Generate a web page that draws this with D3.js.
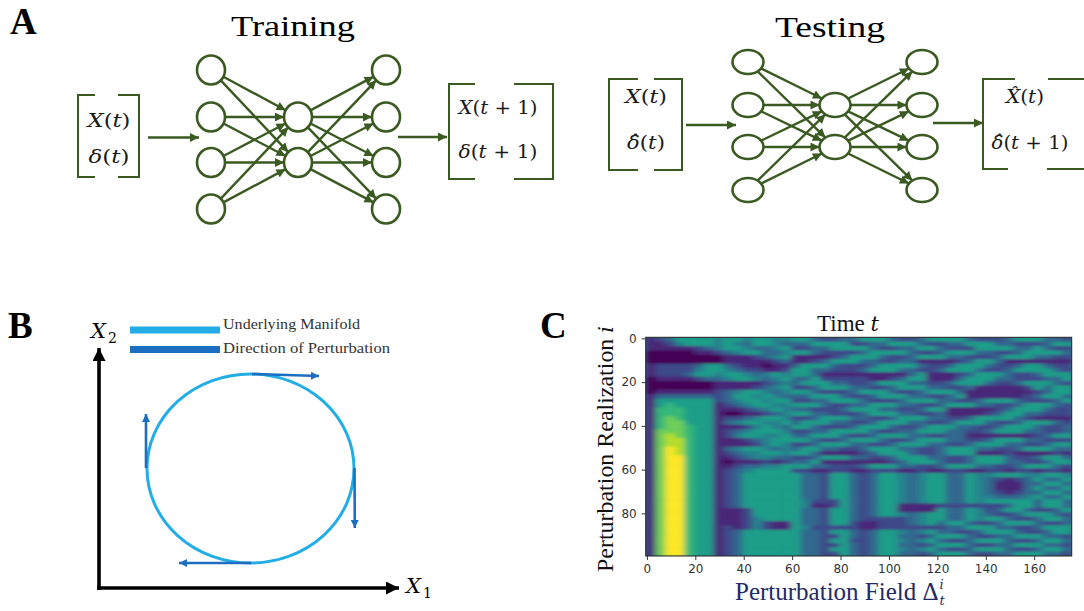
<!DOCTYPE html>
<html><head><meta charset="utf-8">
<script src="https://cdn.jsdelivr.net/npm/d3@7"></script>
<style>body{margin:0;background:#fff}svg{display:block}text{white-space:pre}</style>
</head><body>
<svg id="fig" width="1084" height="611"></svg>
<script>
// ---------------- data ----------------
const panelLetters = ["A", "B", "C"];
const stageTitles = ["Training", "Testing"];
const trainInputs = ["X(t)", "δ(t)"];
const trainOutputs = ["X(t + 1)", "δ(t + 1)"];
const testInputs = ["X(t)", "δ\u0302(t)"];
const testOutputs = ["X\u0302(t)", "δ\u0302(t + 1)"];
const layerSizes = [4, 2, 4];
const legendLabels = ["Underlying Manifold", "Direction of Perturbation"];
const heatTitle = "Time ";
const heatYLabel = "Perturbation Realization ";
const heatXLabel = "Perturbation Field Δ";
const xTicks = [0, 20, 40, 60, 80, 100, 120, 140, 160];
const yTicks = [0, 20, 40, 60, 80];
const nTime = 176, nReal = 100, colStep = 4, rowStep = 2;
// each row: 2 realizations; each digit: 4 time steps; level 0..9 on viridis
const heatRows = [
 "1235 5554 5545 544 | 55322 33555 32235 55532 22355 5332",
 "1124 5554 5435 543 | 33555 52233 55532 23355 53322 2355",
 "1111 1234 5543 345 | 22335 55532 23355 32225 55533 5322",
 "0000 0112 3455 334 | 55322 22355 55322 35553 32235 5553",
 "0000 0000 1112 345 | 11112 35553 22355 53322 23555 3322",
 "0000 0000 1111 123 | 11235 55332 23311 11235 53111 1111",
 "1222 2355 3211 011 | 35553 22235 55532 23555 32235 5322",
 "1222 2455 4322 112 | 55332 22355 53322 35553 22355 5532",
 "1222 3554 5543 454 | 55311 11111 11351 11235 55322 3555",
 "0111 1233 4554 345 | 33522 22211 23551 11355 53322 2335",
 "0000 0001 1111 234 | 35553 32235 55332 23555 32235 5532",
 "0000 0001 1112 345 | 22355 53322 35553 32231 11112 5355",
 "0111 1112 3455 434 | 55322 23555 32235 55311 11111 2355",
 "1333 3332 3554 543 | 33555 32235 55332 23511 11112 3553",
 "1555 5552 3455 455 | 22335 55322 23555 33223 55532 2235",
 "1565 5551 2345 544 | 55532 23355 53322 35553 32235 5532",
 "1666 5551 1123 454 | 33222 35553 32235 51111 12355 5322",
 "1666 5551 0011 234 | 55332 22355 53322 31111 23553 3222",
 "1676 5551 2234 554 | 22355 53322 35553 32235 55532 1111",
 "1677 5551 3455 445 | 35553 32235 55332 23555 32235 5532",
 "1677 6551 1124 543 | 55322 23555 32235 55332 23555 3223",
 "1777 6551 2345 554 | 22335 55532 23355 53322 35553 3223",
 "1787 6551 2455 445 | 33555 32235 55332 23311 11111 2355",
 "1788 6551 1123 455 | 55322 35553 22355 53322 35553 3222",
 "1788 6551 1112 454 | 22355 53322 35553 32235 55332 2355",
 "1798 6551 3455 434 | 35533 22355 53322 35553 32235 5533",
 "1798 6551 2344 554 | 55311 11235 55322 35551 11211 1121",
 "1799 6551 1234 433 | 22355 53322 35553 32235 55322 3553",
 "1799 6551 0111 212 | 33511 11111 23555 32235 55332 2355",
 "1799 6551 1233 445 | 55332 22355 53322 35553 32235 5532",
 "1799 6551 2345 555 | 22112 21122 21121 12211 22122 1221",
 "1799 6551 2355 555 | 53325 53235 54345 53354 45554 4554",
 "1799 6551 2355 555 | 53325 53235 54345 53354 32123 5335",
 "1799 6551 2355 555 | 53325 53235 54345 53354 31113 3553",
 "1799 6551 2355 555 | 53325 53235 54345 53354 31113 5335",
 "1799 6551 2355 555 | 53325 53235 54345 53354 32123 3553",
 "1799 6551 2355 555 | 53325 53235 54345 53354 43334 5335",
 "1799 6551 2355 555 | 54222 53235 54345 53354 55555 3553",
 "1799 6551 2355 555 | 54112 53235 51111 22222 22355 3553",
 "1799 6551 1125 555 | 53325 53235 51111 53354 23553 2235",
 "1799 6551 1125 555 | 53325 53235 54345 53354 32235 5532",
 "1799 6551 1124 555 | 53325 53222 22345 53354 55322 3553",
 "1799 6551 1124 211 | 53325 52112 22345 35532 23555 3223",
 "1799 6551 2124 211 | 54222 22112 22222 23355 53322 3555",
 "1799 6551 2355 555 | 53325 53235 54345 33223 55532 2355",
 "1799 6551 2355 555 | 53322 53235 53323 55532 23355 5332",
 "1799 6551 2355 555 | 53325 52235 54345 32235 55322 3553",
 "1799 6551 2355 555 | 53322 53235 53323 55532 23355 5332",
 "1799 6551 2355 555 | 53325 53235 54345 32235 55322 3553",
 "1799 6551 2355 555 | 53322 53235 53323 55532 23355 5332"
].map(s => s.replace(/[ |]/g, ""));

// ---------------- setup ----------------
const svg = d3.select("#fig");
const GREEN = "#3a5a22", LIGHTBLUE = "#22ade6", DARKBLUE = "#1c6ec1";
const SERIF = "'Liberation Serif', 'Times New Roman', serif";
const MATH = "'DejaVu Serif', serif";
const defs = svg.append("defs");
function marker(id, color, len, wid) {
  defs.append("marker").attr("id", id).attr("viewBox", "0 0 10 10")
    .attr("refX", 10).attr("refY", 5).attr("markerUnits", "userSpaceOnUse")
    .attr("markerWidth", len).attr("markerHeight", wid).attr("orient", "auto")
    .append("path").attr("d", "M0,0L10,5L0,10z").attr("fill", color);
}
marker("mGreen", GREEN, 11, 9);
marker("mBlue", DARKBLUE, 11, 8);
marker("mBlack", "#000", 15, 13);

function mathLabel(g, str, cx, base, len, size) {
  const t = g.append("text").attr("x", cx).attr("y", base).attr("text-anchor", "middle")
    .attr("font-family", MATH).attr("font-size", size).attr("fill", "#1a1a1a")
    .attr("textLength", len).attr("lengthAdjust", "spacingAndGlyphs");
  const toks = [];
  Array.from(str).forEach(ch => {
    if (/[\u0300-\u036f]/.test(ch) && toks.length) toks[toks.length - 1] += ch; else toks.push(ch);
  });
  toks.forEach(tok => t.append("tspan")
    .attr("font-style", /[A-Za-zδ]/.test(tok[0]) ? "italic" : "normal").text(tok));
}

const letterPos = [[10, 34], [8, 338], [540, 338]];
panelLetters.forEach((L, i) => svg.append("text").attr("x", letterPos[i][0]).attr("y", letterPos[i][1])
  .attr("font-family", SERIF).attr("font-weight", "bold").attr("font-size", 37).attr("fill", "#000").text(L));

// ---------------- Panel A ----------------
function bracket(g, x0, x1, y0, y1, sl, sr) {
  g.append("path").attr("fill", "none").attr("stroke", GREEN).attr("stroke-width", 2)
    .attr("d", `M${x0 + sl},${y0}H${x0}V${y1}H${x0 + sl}M${x1 - sr},${y0}H${x1}V${y1}H${x1 - sr}`);
}
function network(g, xs, ys1, ys2, rx, ry) {
  const layers = [ys1, ys2, ys1].map((ys, li) => ys.slice(0, layerSizes[li]).map(y => ({ x: xs[li], y })));
  const edge = (a, b) => {
    const dx = b.x - a.x, dy = b.y - a.y, L = Math.hypot(dx, dy), ux = dx / L, uy = dy / L;
    const k = 1 / Math.sqrt((ux / rx) ** 2 + (uy / ry) ** 2);
    return [a.x + ux * k, a.y + uy * k, b.x - ux * k, b.y - uy * k];
  };
  const edges = [];
  for (let l = 0; l < 2; l++) layers[l].forEach(a => layers[l + 1].forEach(b => edges.push(edge(a, b))));
  g.selectAll(null).data(edges).join("line")
    .attr("x1", d => d[0]).attr("y1", d => d[1]).attr("x2", d => d[2]).attr("y2", d => d[3])
    .attr("stroke", GREEN).attr("stroke-width", 2.4).attr("marker-end", "url(#mGreen)");
  g.selectAll(null).data(layers.flat()).join("ellipse")
    .attr("cx", d => d.x).attr("cy", d => d.y).attr("rx", rx).attr("ry", ry)
    .attr("fill", "none").attr("stroke", GREEN).attr("stroke-width", 2.6);
}
function arrow(g, x0, y0, x1, y1, m, color, w) {
  g.append("line").attr("x1", x0).attr("y1", y0).attr("x2", x1).attr("y2", y1)
    .attr("stroke", color).attr("stroke-width", w).attr("marker-end", `url(#${m})`);
}
const gA = svg.append("g");
gA.append("text").attr("x", 293).attr("y", 36).attr("text-anchor", "middle").attr("font-family", SERIF)
  .attr("font-size", 30).attr("textLength", 124).attr("lengthAdjust", "spacingAndGlyphs").text(stageTitles[0]);
gA.append("text").attr("x", 830).attr("y", 37).attr("text-anchor", "middle").attr("font-family", SERIF)
  .attr("font-size", 30).attr("textLength", 110).attr("lengthAdjust", "spacingAndGlyphs").text(stageTitles[1]);
bracket(gA, 78, 139, 95, 177, 17, 21);
mathLabel(gA, trainInputs[0], 109, 127, 43, 19);
mathLabel(gA, trainInputs[1], 109, 163, 41, 19);
arrow(gA, 148, 137.5, 199, 137.5, "mGreen", GREEN, 2.4);
network(gA, [211, 298, 386], [70, 117, 162.5, 209], [117, 162.5], 14, 14.5);
arrow(gA, 398, 137, 447, 137, "mGreen", GREEN, 2.4);
bracket(gA, 449, 553, 84, 179, 26, 39);
mathLabel(gA, trainOutputs[0], 498, 114, 79, 19);
mathLabel(gA, trainOutputs[1], 498, 158, 79, 19);
bracket(gA, 609, 682, 79, 170, 29, 28);
mathLabel(gA, testInputs[0], 646, 103, 42, 19);
mathLabel(gA, testInputs[1], 646, 149, 38, 19);
arrow(gA, 686, 125, 736, 125, "mGreen", GREEN, 2.4);
network(gA, [748, 835, 922], [62, 105, 147, 190], [105, 147], 15.5, 12);
arrow(gA, 933, 123, 983, 123, "mGreen", GREEN, 2.4);
gA.append("path").attr("fill", "none").attr("stroke", GREEN).attr("stroke-width", 2)
  .attr("d", "M1015,79H983V169H1008M1048,79H1095M1047,169H1095");
mathLabel(gA, testOutputs[0], 1025, 103, 38, 19);
mathLabel(gA, testOutputs[1], 1030, 149, 77, 19);

// ---------------- Panel B ----------------
const gB = svg.append("g");
gB.append("rect").attr("x", 130).attr("y", 326.5).attr("width", 90).attr("height", 7).attr("fill", LIGHTBLUE);
gB.append("rect").attr("x", 130).attr("y", 346).attr("width", 90).attr("height", 7).attr("fill", DARKBLUE);
gB.append("text").attr("x", 223).attr("y", 328.5).attr("font-family", SERIF).attr("font-size", 15.5)
  .attr("fill", "#333").attr("textLength", 137).attr("lengthAdjust", "spacingAndGlyphs").text(legendLabels[0]);
gB.append("text").attr("x", 223).attr("y", 352.5).attr("font-family", SERIF).attr("font-size", 15.5)
  .attr("fill", "#333").attr("textLength", 167).attr("lengthAdjust", "spacingAndGlyphs").text(legendLabels[1]);
gB.append("line").attr("x1", 99).attr("y1", 590).attr("x2", 99).attr("y2", 348)
  .attr("stroke", "#000").attr("stroke-width", 3.6).attr("marker-end", "url(#mBlack)");
gB.append("line").attr("x1", 97).attr("y1", 588).attr("x2", 399).attr("y2", 588)
  .attr("stroke", "#000").attr("stroke-width", 3.6).attr("marker-end", "url(#mBlack)");
gB.append("text").attr("x", 91).attr("y", 338).attr("font-family", MATH).attr("font-style", "italic")
  .attr("font-size", 21).text("X");
gB.append("text").attr("x", 108).attr("y", 343).attr("font-family", MATH).attr("font-size", 14).text("2");
gB.append("text").attr("x", 406).attr("y", 593).attr("font-family", MATH).attr("font-style", "italic")
  .attr("font-size", 21).text("X");
gB.append("text").attr("x", 423).attr("y", 598).attr("font-family", MATH).attr("font-size", 14).text("1");
gB.append("ellipse").attr("cx", 250.5).attr("cy", 468.5).attr("rx", 103.5).attr("ry", 94.5)
  .attr("fill", "none").attr("stroke", LIGHTBLUE).attr("stroke-width", 3);
arrow(gB, 252, 374, 319, 376, "mBlue", DARKBLUE, 2.6);
arrow(gB, 354.5, 468, 354.8, 528, "mBlue", DARKBLUE, 2.6);
arrow(gB, 251, 563, 179, 563, "mBlue", DARKBLUE, 2.6);
arrow(gB, 146, 468, 146, 414, "mBlue", DARKBLUE, 2.6);

// ---------------- Panel C ----------------
const gC = svg.append("g");
const X0 = 645.7, X1 = 1071.7, Y0 = 337.3, Y1 = 556;
const x = d3.scaleLinear().domain([-0.5, nTime - 0.5]).range([X0, X1]);
const y = d3.scaleLinear().domain([-0.5, nReal - 0.5]).range([Y0, Y1]);
const color = d3.scaleSequential(d3.interpolateViridis).domain([0, 9]);
const cells = heatRows.flatMap((row, r) => Array.from(row).slice(0, nTime / colStep).map((d, c) => ({ r, c, v: +d })));
defs.append("clipPath").attr("id", "heatClip").append("rect")
  .attr("x", X0).attr("y", Y0).attr("width", X1 - X0).attr("height", Y1 - Y0);
defs.append("filter").attr("id", "soft").attr("x", "-5%").attr("y", "-5%").attr("width", "110%").attr("height", "110%")
  .append("feGaussianBlur").attr("stdDeviation", "3.2 0.8");
const hc = gC.append("g").attr("clip-path", "url(#heatClip)");
hc.append("rect").attr("x", X0).attr("y", Y0).attr("width", X1 - X0).attr("height", Y1 - Y0).attr("fill", color(3.5));
hc.append("g").attr("filter", "url(#soft)").selectAll("rect").data(cells).join("rect")
  .attr("x", d => x(d.c * colStep - 0.5))
  .attr("y", d => y(d.r * rowStep - 0.5))
  .attr("width", d => x(Math.min((d.c + 1) * colStep, nTime) - 0.5) - x(d.c * colStep - 0.5) + 0.6)
  .attr("height", d => y(Math.min((d.r + 1) * rowStep, nReal) - 0.5) - y(d.r * rowStep - 0.5) + 0.6)
  .attr("fill", d => color(d.v));
gC.append("rect").attr("x", X0).attr("y", Y0).attr("width", X1 - X0).attr("height", Y1 - Y0)
  .attr("fill", "none").attr("stroke", "#222").attr("stroke-width", 1);
const gx = gC.append("g").attr("transform", `translate(0,${Y1})`)
  .call(d3.axisBottom(x).tickValues(xTicks).tickSize(4).tickPadding(4));
const gy = gC.append("g").attr("transform", `translate(${X0},0)`)
  .call(d3.axisLeft(y).tickValues(yTicks).tickSize(4).tickPadding(5));
[gx, gy].forEach(a => {
  a.select(".domain").remove();
  a.selectAll("line").attr("stroke", "#333");
  a.selectAll("text").attr("font-family", "'DejaVu Sans', sans-serif").attr("font-size", 12).attr("fill", "#333");
});
const tt = gC.append("text").attr("x", 848).attr("y", 331).attr("text-anchor", "middle")
  .attr("font-family", SERIF).attr("font-size", 23).attr("fill", "#111");
tt.append("tspan").text(heatTitle);
tt.append("tspan").attr("font-family", MATH).attr("font-style", "italic").attr("font-size", 21).text("t");
const yl = gC.append("text").attr("transform", "translate(613,449) rotate(-90)").attr("text-anchor", "middle")
  .attr("font-family", SERIF).attr("font-size", 23).attr("fill", "#111")
  .attr("textLength", 246).attr("lengthAdjust", "spacingAndGlyphs");
yl.append("tspan").text(heatYLabel);
yl.append("tspan").attr("font-family", MATH).attr("font-style", "italic").attr("font-size", 20).text("i");
const xl = gC.append("text").attr("x", 735).attr("y", 600).attr("font-family", SERIF)
  .attr("font-size", 25).attr("fill", "#1f2a66").text(heatXLabel);
const xe = 735 + xl.node().getComputedTextLength();
gC.append("text").attr("x", xe + 1).attr("y", 589).attr("font-family", MATH).attr("font-style", "italic")
  .attr("font-size", 13).attr("fill", "#1f2a66").text("i");
gC.append("text").attr("x", xe + 1).attr("y", 605).attr("font-family", MATH).attr("font-style", "italic")
  .attr("font-size", 13).attr("fill", "#1f2a66").text("t");
</script>
</body></html>
